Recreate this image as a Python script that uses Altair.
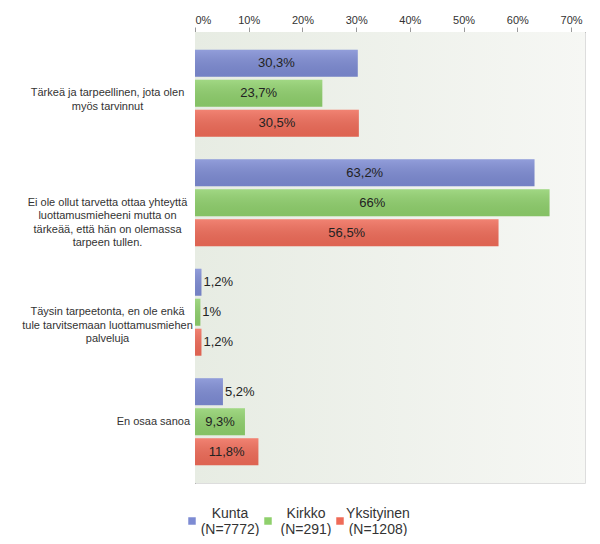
import altair as alt
import pandas as pd

categories = [
    "Tärkeä ja tarpeellinen, jota olen|myös tarvinnut",
    "Ei ole ollut tarvetta ottaa yhteyttä|luottamusmieheeni mutta on|tärkeää, että hän on olemassa|tarpeen tullen.",
    "Täysin tarpeetonta, en ole enkä|tule tarvitsemaan luottamusmiehen|palveluja",
    "En osaa sanoa",
]
series = ["Kunta|(N=7772)", "Kirkko|(N=291)", "Yksityinen|(N=1208)"]
kunta = [30.3, 63.2, 1.2, 5.2]
kirkko = [23.7, 66.0, 1.0, 9.3]
yksityinen = [30.5, 56.5, 1.2, 11.8]
colors = ["#7d8bd3", "#8fd06c", "#ef6b58"]
x_ticks = [0, 10, 20, 30, 40, 50, 60, 70]

rows = []
for vals, s in zip([kunta, kirkko, yksityinen], series):
    for c, v in zip(categories, vals):
        rows.append({"cat": c, "series": s, "value": v})
df = pd.DataFrame(rows)

FONT = "Liberation Sans"
W, H = 390, 451
PAD = "\u200b" + "\u00a0" * 3

x_enc = alt.X(
    "value:Q",
    scale=alt.Scale(domain=[0, 72.6], nice=False, zero=True),
    axis=alt.Axis(
        orient="top", values=x_ticks, labelExpr="datum.value + '%'",
        grid=True, gridColor="#dcdfd9", gridWidth=1,
        domainColor="#9a9a9a", tickColor="#9a9a9a", tickSize=5,
        labelFont=FONT, labelFontSize=11, labelColor="#333333", labelPadding=2,
        title=None,
    ),
)
y_enc = alt.Y(
    "cat:N", sort=categories,
    scale=alt.Scale(paddingInner=0, paddingOuter=0.06),
    axis=alt.Axis(
        title=None, ticks=False, tickSize=0, grid=False,
        domainColor="#8a8a8a",
        labelExpr="datum.value == 'En osaa sanoa' ? '" + PAD + "' + datum.value : split(datum.value, '|')",
        labelAlign={"condition": {"test": "datum.value == 'En osaa sanoa'", "value": "left"}, "value": "center"},
        labelPadding=88, labelFont=FONT, labelFontSize=11, labelColor="#333333",
        labelLineHeight=13.5, labelLimit=300, labelBaseline="middle",
    ),
)
yoff = alt.YOffset("series:N", sort=series, scale=alt.Scale(paddingInner=0.1, paddingOuter=0.375))

base = alt.Chart(df)

bg = alt.Chart(pd.DataFrame({"a": [0]})).mark_rect(
    fill={"gradient": "linear", "x1": 0, "y1": 0, "x2": 1, "y2": 0,
          "stops": [{"offset": 0, "color": "#e7ece3"}, {"offset": 1, "color": "#f6f7f4"}]}
).encode(x=alt.value(0), x2=alt.value("width"), y=alt.value(0), y2=alt.value("height"))

bars = base.mark_bar().encode(
    x=x_enc, y=y_enc, yOffset=yoff,
    color=alt.Color(
        "series:N", sort=series,
        scale=alt.Scale(domain=series, range=colors),
        legend=alt.Legend(
            title=None, orient="none", direction="horizontal",
            legendX=-10, legendY=482, padding=0,
            symbolType="square", symbolSize=56, symbolStrokeWidth=0,
            labelExpr="split(datum.label, '|')",
            labelAlign="center", labelOffset=31, labelBaseline="bottom",
            labelFont=FONT, labelFontSize=14, labelColor="#333333",
            labelLimit=300, columnPadding=1,
        ),
    ),
)

shade = base.mark_bar(
    fill={"gradient": "linear", "x1": 0, "y1": 0, "x2": 0, "y2": 1,
          "stops": [{"offset": 0, "color": "rgba(255,255,255,0.16)"},
                    {"offset": 1, "color": "rgba(0,0,0,0.07)"}]}
).encode(x="value:Q", y=alt.Y("cat:N", sort=categories), yOffset=alt.YOffset("series:N", sort=series))

lab = base.transform_calculate(
    txt="replace(format(datum.value, '.1~f'), '.', ',') + '%'",
    half="datum.value / 2",
)
inside = lab.transform_filter("datum.value > 7").mark_text(
    align="center", baseline="middle", font=FONT, fontSize=13, color="#222222"
).encode(x="half:Q", y=alt.Y("cat:N", sort=categories), yOffset=alt.YOffset("series:N", sort=series), text="txt:N")
outside = lab.transform_filter("datum.value <= 7").mark_text(
    align="left", baseline="middle", dx=2, font=FONT, fontSize=13, color="#222222"
).encode(x="value:Q", y=alt.Y("cat:N", sort=categories), yOffset=alt.YOffset("series:N", sort=series), text="txt:N")

chart = alt.layer(bg, bars, shade, inside, outside).properties(
    width=W, height=H,
    autosize=alt.AutoSizeParams(type="none"),
    padding={"left": 187, "top": 24, "right": 7, "bottom": 53},
).configure_view(stroke="#c2c2c2", strokeWidth=1).configure(background="white")

chart.save("out.html", embed_options={"renderer": "svg", "actions": False})
